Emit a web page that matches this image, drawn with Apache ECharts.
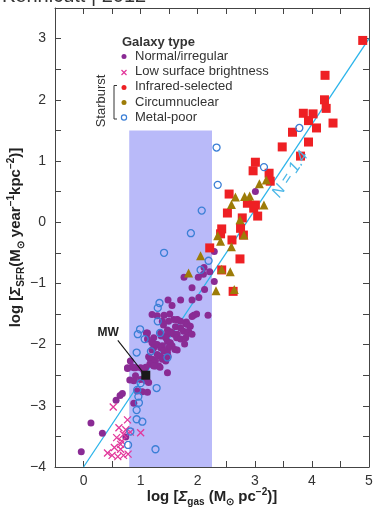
<!DOCTYPE html>
<html>
<head>
<meta charset="utf-8">
<script src="https://cdn.jsdelivr.net/npm/echarts@6/dist/echarts.min.js"></script>
<style>
  html, body { margin: 0; padding: 0; background: #fff; }
  #chart { width: 373px; height: 509px; }
</style>
</head>
<body>
<div id="chart"></div>
<script>
// log Σgas, log ΣSFR pairs
const normal = [
  [-0.04, -3.75], [0.13, -3.28], [0.33, -3.45], [0.57, -2.91], [0.64, -2.83], [0.68, -2.80],
  [0.74, -3.51], [0.77, -2.38], [0.81, -2.58], [0.88, -2.96], [3.01, 0.50],
  [2.29, -0.48], [2.21, -0.81], [2.29, -0.97], [2.11, -0.74], [2.10, -0.85], [2.01, -0.90],
  [1.76, -0.90], [1.90, -1.07], [2.12, -1.10], [2.02, -1.23], [1.90, -1.27], [1.70, -1.27],
  [1.48, -1.27], [1.55, -1.36], [2.18, -1.52], [1.98, -1.50], [1.93, -1.52], [1.90, -1.54],
  [1.64, -1.59], [1.41, -1.52], [1.80, -1.63], [1.70, -1.62], [1.38, -1.62], [1.51, -1.50],
  [1.29, -1.53], [1.20, -1.51], [1.49, -1.62], [1.58, -1.59], [1.65, -1.60], [1.79, -1.66],
  [1.82, -1.67], [1.87, -1.70], [1.40, -1.68], [1.61, -1.71], [1.70, -1.73], [1.75, -1.78],
  [1.84, -1.78], [1.82, -1.81], [1.90, -1.83], [1.52, -1.79], [1.47, -1.76], [1.58, -1.83],
  [1.35, -1.81], [1.12, -1.81], [1.55, -1.81], [1.64, -1.83], [1.47, -1.83], [1.36, -1.86],
  [1.44, -1.89], [1.23, -1.89], [1.63, -1.89], [1.70, -1.91], [1.79, -1.89], [1.10, -1.81],
  [1.12, -1.91], [1.47, -1.95], [1.52, -1.97], [1.20, -1.97], [1.77, -1.99], [1.29, -2.00],
  [1.26, -2.00], [1.38, -2.02], [1.55, -2.02], [1.49, -2.05], [1.23, -2.05], [1.35, -2.05],
  [1.60, -2.08], [1.64, -2.09], [1.20, -2.09], [1.41, -2.10], [1.47, -2.13], [1.29, -2.16],
  [1.35, -2.19], [1.48, -2.19], [1.14, -2.20], [1.17, -2.24], [1.20, -2.24], [1.26, -2.26],
  [1.38, -2.24], [1.44, -2.27], [0.82, -2.27], [1.23, -2.30], [1.16, -2.32], [1.34, -2.37],
  [1.26, -2.35], [1.32, -2.35], [1.23, -2.35], [1.09, -2.37], [1.03, -2.39], [1.00, -2.38],
  [0.91, -2.38], [0.88, -2.38], [0.85, -2.36], [0.77, -2.39], [1.06, -2.43], [1.47, -2.46],
  [0.91, -2.51], [1.00, -2.57], [1.09, -2.59], [1.14, -2.62], [0.88, -2.59], [0.94, -2.76],
  [1.03, -2.77], [1.12, -2.78]
];
const lowSurface = [
  [0.52, -3.02], [0.77, -3.23], [0.62, -3.36], [0.74, -3.39], [0.82, -3.43], [1.00, -3.44],
  [0.58, -3.52], [0.67, -3.58], [0.65, -3.63], [0.54, -3.68], [0.65, -3.71], [0.42, -3.77],
  [0.50, -3.81], [0.60, -3.83], [0.70, -3.81], [0.78, -3.79], [0.70, -3.47]
];
const infrared = [
  [4.89, 2.97], [4.23, 2.40], [4.22, 2.00], [4.25, 1.86], [3.85, 1.78], [4.02, 1.77],
  [3.94, 1.66], [4.37, 1.62], [4.08, 1.54], [3.66, 1.47], [3.94, 1.31], [3.48, 1.23],
  [3.80, 1.08], [3.01, 0.98], [2.97, 0.84], [3.25, 0.80], [3.27, 0.67], [2.55, 0.46],
  [2.87, 0.31], [3.01, 0.28], [2.98, 0.23], [3.05, 0.10], [2.52, 0.15], [2.78, 0.07],
  [2.75, -0.10], [2.42, -0.11], [2.40, -0.19], [2.60, -0.29], [2.80, -0.21], [2.21, -0.42],
  [2.74, -0.60], [2.42, -0.78], [2.62, -1.13]
];
const circumnuclear = [
  [3.08, 0.63], [3.20, 0.69], [2.66, 0.41], [2.82, 0.42], [2.91, 0.43], [2.59, 0.29],
  [3.16, 0.28], [2.74, 0.04], [2.81, -0.21], [2.35, -0.22], [2.40, -0.31], [2.59, -0.40],
  [2.05, -0.55], [1.84, -0.83], [2.42, -0.77], [2.57, -0.81], [2.32, -1.12], [2.64, -1.10]
];
const metalPoor = [
  [3.78, 1.54], [2.33, 1.22], [3.16, 0.90], [2.35, 0.61], [2.07, 0.19], [1.88, -0.18],
  [1.41, -0.50], [2.19, -0.63], [2.05, -0.78], [1.33, -1.32], [1.30, -1.40], [1.30, -1.62],
  [0.99, -1.75], [0.95, -1.83], [1.07, -1.91], [1.34, -1.81], [0.93, -2.13], [1.18, -2.11],
  [1.47, -2.21], [1.00, -2.63], [0.94, -2.74], [1.28, -2.71], [0.96, -2.85], [0.97, -2.95],
  [0.93, -3.07], [0.93, -3.22], [1.03, -3.26], [0.82, -3.42], [0.78, -3.64], [1.26, -3.71]
];
const milkyWay = [[1.09, -2.50]];
const mwPointer = [[0.60, -1.93], [1.03, -2.44]];
const fitLine = [[0, -4], [5, 3]];
const shadeBox = [[0.8, -4], [2.25, 1.5]];
const legendLabels = ['Normal/irregular', 'Low surface brightness', 'Infrared-selected', 'Circumnuclear', 'Metal-poor'];

const FONT = "'Liberation Sans', Arial, sans-serif";
const chart = echarts.init(document.getElementById('chart'));

const tickFmt = v => (Number.isInteger(v) ? String(v).replace('-', '\u2212') : '');
const axisLine = { onZero: false, lineStyle: { color: '#444', width: 1 } };
const axisTick = { inside: true, length: 6, lineStyle: { color: '#444' } };
const nameRich = {
  b: { fontSize: 15, fontWeight: 'bold', fontFamily: FONT, color: '#222', lineHeight: 20 },
  i: { fontSize: 15, fontWeight: 'bold', fontStyle: 'italic', fontFamily: FONT, color: '#222', lineHeight: 20 },
  s: { fontSize: 10, fontWeight: 'bold', fontFamily: FONT, color: '#222', verticalAlign: 'bottom', lineHeight: 14 },
  p: { fontSize: 10, fontWeight: 'bold', fontFamily: FONT, color: '#222', verticalAlign: 'top', lineHeight: 14 }
};

chart.setOption({
  animation: false,
  grid: { left: 55, right: 4, top: 8, bottom: 42, containLabel: false, outerBoundsMode: 'none' },
  xAxis: [
    {
      type: 'value', min: -0.5, max: 5, interval: 0.5,
      axisLine, axisTick, splitLine: { show: false },
      axisLabel: { formatter: tickFmt, fontSize: 14, color: '#333', fontFamily: FONT, margin: 7 },
      name: '{b|log [}{i|\u03a3}{s|gas}{b| (M}{s|\u2299}{b| pc}{p|\u22122}{b|)]}',
      nameLocation: 'middle', nameGap: 20, nameMoveOverlap: false,
      nameTextStyle: { rich: nameRich }
    },
    {
      type: 'value', position: 'top', min: -0.5, max: 5, interval: 0.5,
      axisLine, axisTick, axisLabel: { show: false }, splitLine: { show: false }
    }
  ],
  yAxis: [
    {
      type: 'value', min: -4, max: 3.5, interval: 0.5,
      axisLine, axisTick, splitLine: { show: false },
      axisLabel: { formatter: tickFmt, fontSize: 14, color: '#333', fontFamily: FONT, margin: 9 },
      name: '{b|log [}{i|\u03a3}{s|SFR}{b|(M}{s|\u2299}{b| year}{p|\u22121}{b|kpc}{p|\u22122}{b|)]}',
      nameLocation: 'middle', nameGap: 29, nameRotate: 90, nameMoveOverlap: false,
      nameTextStyle: { rich: nameRich }
    },
    {
      type: 'value', position: 'right', min: -4, max: 3.5, interval: 0.5,
      axisLine, axisTick, axisLabel: { show: false }, splitLine: { show: false }
    }
  ],
  series: [
    {
      name: 'N = 1.4',
      type: 'line',
      data: fitLine,
      symbol: 'none',
      z: 2,
      lineStyle: { color: '#2ab4ea', width: 1.3 },
      markArea: {
        silent: true,
        itemStyle: { color: '#b9baf9', opacity: 1 },
        data: [[{ coord: shadeBox[0] }, { coord: shadeBox[1] }]]
      }
    },
    {
      name: 'Normal/irregular', type: 'scatter', data: normal, z: 3,
      symbol: 'circle', symbolSize: 7, itemStyle: { color: '#8a2b94', opacity: 1 }
    },
    {
      name: 'Low surface brightness', type: 'scatter', data: lowSurface, z: 3,
      symbol: 'path://M0,0L10,10M10,0L0,10', symbolSize: 7,
      itemStyle: { color: 'rgba(0,0,0,0)', borderColor: '#e2389b', borderWidth: 1.3, opacity: 1 }
    },
    {
      name: 'Circumnuclear', type: 'scatter', data: circumnuclear, z: 4,
      symbol: 'triangle', symbolSize: 9, itemStyle: { color: '#9d7c08', opacity: 1 }
    },
    {
      name: 'Infrared-selected', type: 'scatter', data: infrared, z: 3,
      symbol: 'rect', symbolSize: 9, itemStyle: { color: '#ee2024', opacity: 1 }
    },
    {
      name: 'Metal-poor', type: 'scatter', data: metalPoor, z: 4,
      symbol: 'circle', symbolSize: 7,
      itemStyle: { color: 'rgba(0,0,0,0)', borderColor: '#3b7fd6', borderWidth: 1.3, opacity: 1 }
    },
    {
      name: 'MW pointer', type: 'line', data: mwPointer, symbol: 'none', z: 5,
      lineStyle: { color: '#111', width: 1.1 }
    },
    {
      name: 'MW', type: 'scatter', data: milkyWay, z: 6,
      symbol: 'rect', symbolSize: 9, itemStyle: { color: '#1a1a1a', opacity: 1 }
    }
  ]
});

// annotations anchored through the chart's own coordinate system
const mwLabelAt = chart.convertToPixel({ gridIndex: 0 }, [0.43, -1.81]);
const slopeLabelAt = chart.convertToPixel({ gridIndex: 0 }, [3.62, 0.78]);
const legendMarks = [
  { type: 'circle', shape: { cx: 124, cy: 56.5, r: 2.5 }, style: { fill: '#8a2b94' } },
  { type: 'polyline', shape: { points: [[121.5, 70], [126.5, 75]] }, style: { stroke: '#e2389b', lineWidth: 1.2 } },
  { type: 'polyline', shape: { points: [[126.5, 70], [121.5, 75]] }, style: { stroke: '#e2389b', lineWidth: 1.2 } },
  { type: 'circle', shape: { cx: 124, cy: 87.5, r: 2.5 }, style: { fill: '#ee2024' } },
  { type: 'circle', shape: { cx: 124, cy: 102.5, r: 2.5 }, style: { fill: '#9d7c08' } },
  { type: 'circle', shape: { cx: 124, cy: 117.5, r: 2.6 }, style: { fill: 'none', stroke: '#3b7fd6', lineWidth: 1.2 } }
];
const legendTexts = legendLabels.map((t, i) => ({
  type: 'text', x: 135, y: 56.5 + i * 15.2,
  style: { text: t, font: '13px ' + FONT, fill: '#333', textVerticalAlign: 'middle' }
}));

chart.setOption({
  graphic: [
    { type: 'text', x: 2, y: 6, style: { text: 'Kennicutt | 2012', font: '20px ' + FONT, fill: '#333', textVerticalAlign: 'bottom' } },
    { type: 'text', x: 122, y: 42, style: { text: 'Galaxy type', font: 'bold 13px ' + FONT, fill: '#333', textVerticalAlign: 'middle' } },
    ...legendMarks,
    ...legendTexts,
    { type: 'text', x: 101, y: 101, rotation: Math.PI / 2,
      style: { text: 'Starburst', font: '13px ' + FONT, fill: '#333', textAlign: 'center', textVerticalAlign: 'middle' } },
    { type: 'polyline', shape: { points: [[117, 85.5], [114, 85.5], [114, 119], [117, 119]] },
      style: { stroke: '#333', lineWidth: 1, fill: 'none' } },
    { type: 'text', x: mwLabelAt[0], y: mwLabelAt[1],
      style: { text: 'MW', font: 'bold 12px ' + FONT, fill: '#222', textAlign: 'center', textVerticalAlign: 'middle' } },
    { type: 'text', x: slopeLabelAt[0], y: slopeLabelAt[1], rotation: Math.atan(1.4 * 61.3 / 57.1), z: 10,
      style: { text: 'N = 1.4', font: 'italic 16px ' + FONT, fill: '#4cb8e8', textAlign: 'center', textVerticalAlign: 'middle' } }
  ]
});
</script>
</body>
</html>
